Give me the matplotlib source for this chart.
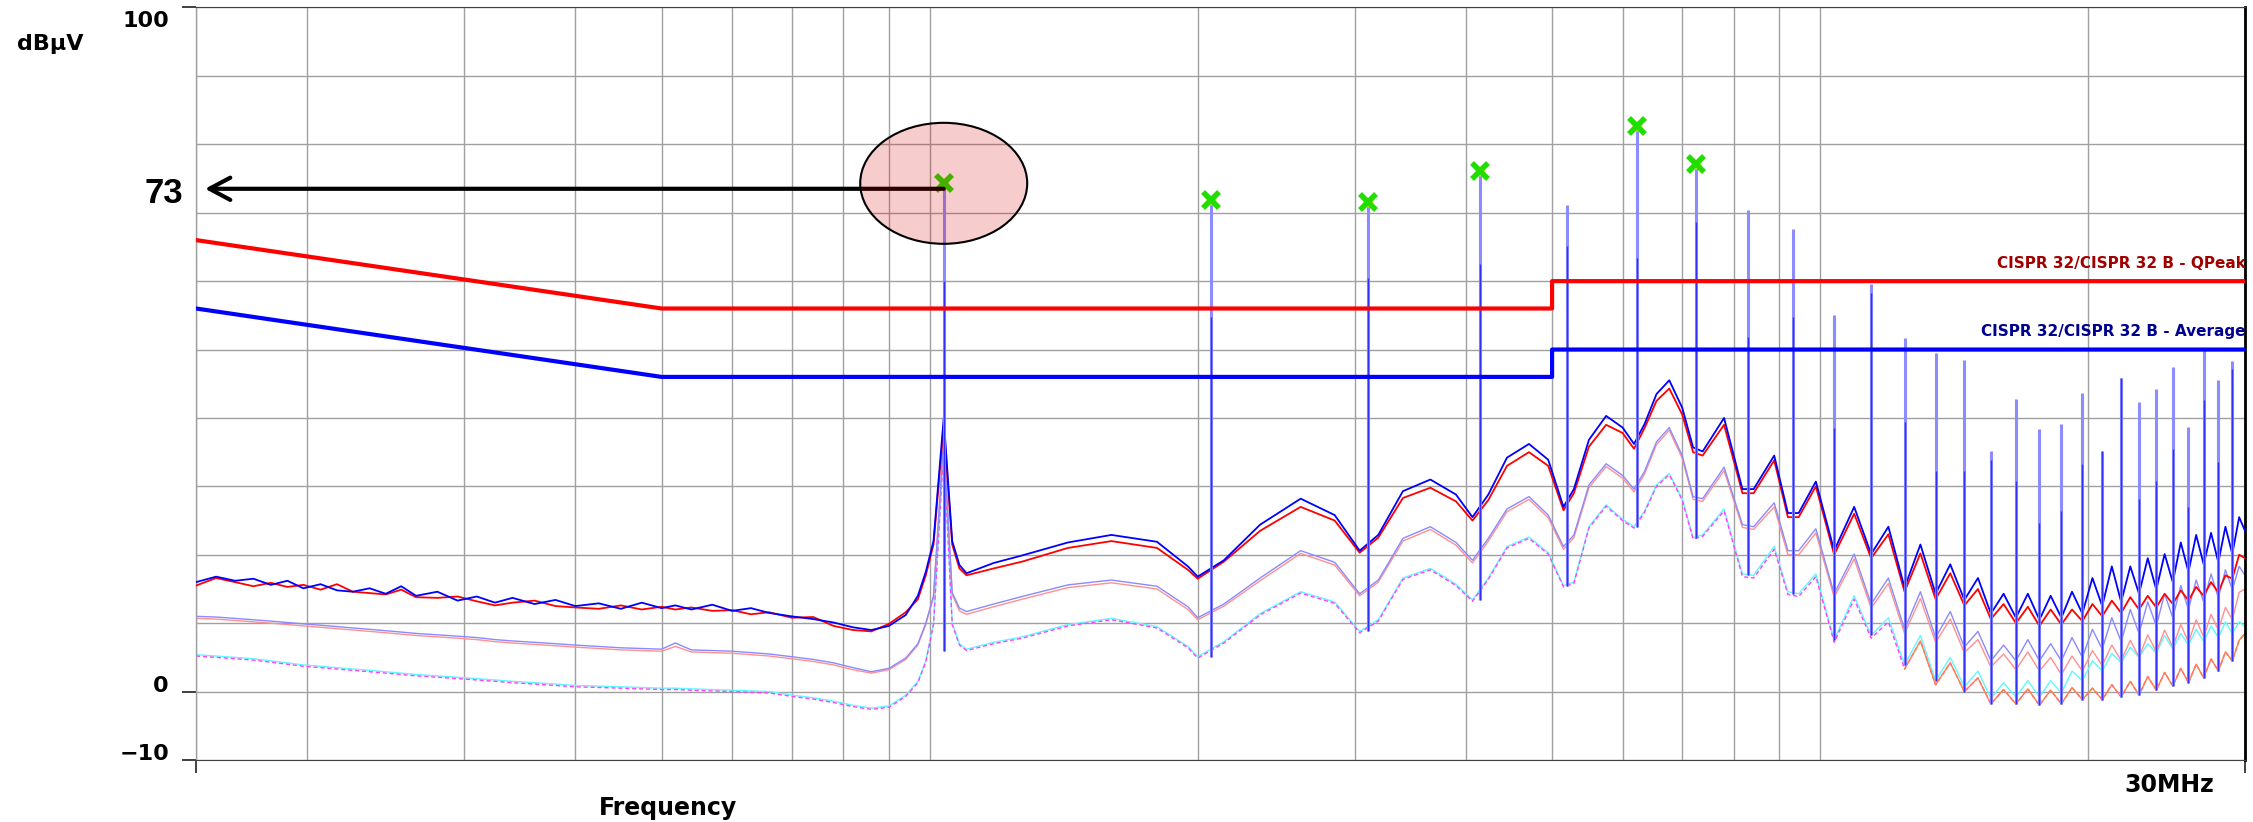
import matplotlib
matplotlib.use('Agg')
import matplotlib.pyplot as plt
import numpy as np
from matplotlib.patches import Ellipse
from matplotlib.ticker import FixedLocator, NullFormatter
from matplotlib.transforms import ScaledTranslation, blended_transform_factory

# scan points (MHz) and levels (dBuV)
freq = [0.150, 0.158, 0.166, 0.174, 0.182, 0.190, 0.198, 0.207, 0.216, 0.225,
        0.235, 0.245, 0.255, 0.265, 0.280, 0.295, 0.310, 0.325, 0.340, 0.360,
        0.380, 0.400, 0.425, 0.450, 0.475, 0.500, 0.518, 0.540, 0.570, 0.600,
        0.630, 0.660, 0.700, 0.740, 0.780, 0.820, 0.860, 0.900, 0.940, 0.970,
        0.990, 1.010, 1.037,
        1.060, 1.080, 1.100, 1.180, 1.270, 1.430, 1.600, 1.800, 1.950, 2.000,
        2.140, 2.350, 2.610, 2.850, 3.040, 3.190, 3.400, 3.650, 3.900, 4.070,
        4.240, 4.450, 4.710, 4.950, 5.150, 5.290, 5.500, 5.750, 6.000, 6.180,
        6.350, 6.550, 6.770, 7.000, 7.200, 7.380, 7.800,
        8.18, 8.42, 8.88, 9.20, 9.46, 9.89,
        10.37, 10.92, 11.41, 11.93, 12.44, 12.96, 13.48, 14.00, 14.52, 15.04,
        15.55, 16.07, 16.59, 17.11, 17.63, 18.15, 18.66, 19.18, 19.70, 20.22,
        20.74, 21.26, 21.78, 22.30, 22.81, 23.33, 23.85, 24.37, 24.89, 25.41,
        25.92, 26.44, 26.96, 27.48, 28.00, 28.52, 29.03, 29.55, 30.00]

pk_l = [16.0, 16.8, 16.2, 16.5, 15.6, 16.2, 15.1, 15.7, 14.8, 14.6,
        15.1, 14.3, 15.4, 14.0, 14.6, 13.3, 13.9, 13.0, 13.7, 12.8,
        13.4, 12.5, 12.9, 12.1, 13.0, 12.2, 12.6, 12.0, 12.7, 11.8,
        12.2, 11.5, 11.0, 10.6, 10.1, 9.4, 9.0, 9.6, 11.2, 14.0,
        17.5, 22.0, 40.0,
        22.0, 18.5, 17.3, 18.8, 19.9, 21.8, 22.9, 21.9, 18.3, 16.8,
        19.2, 24.4, 28.2, 25.8, 20.6, 22.9, 29.3, 31.0, 28.8, 25.5,
        28.8, 34.2, 36.2, 33.9, 27.0, 29.6, 36.8, 40.3, 38.6, 36.2,
        39.1, 43.5, 45.5, 41.5, 35.7, 35.1, 40.0,
        29.6, 29.6, 34.5, 26.1, 26.1, 30.7,
        20.6, 27.0, 20.1, 24.1, 15.2, 21.5, 14.3, 18.6, 13.4, 16.6,
        11.4, 14.3, 10.8, 14.3, 10.5, 14.0, 10.8, 14.6, 11.4, 16.6,
        12.5, 18.3, 13.1, 18.3, 14.3, 19.5, 14.9, 20.1, 16.0, 21.8,
        17.5, 22.9, 18.6, 23.2, 18.9, 24.1, 20.1, 25.5, 23.5]

pk_n = [15.5, 16.6, 16.0, 15.4, 15.9, 15.3, 15.6, 14.9, 15.7, 14.6,
        14.4, 14.2, 14.9, 13.8, 13.7, 13.9, 13.2, 12.6, 13.0, 13.3,
        12.5, 12.3, 12.1, 12.6, 12.0, 12.4, 12.0, 12.3, 11.8, 11.9,
        11.3, 11.6, 10.8, 10.9, 9.6, 9.0, 8.8, 9.9, 11.6, 13.5,
        17.0, 21.5, 39.0,
        21.5, 18.0, 17.0, 18.0, 19.0, 21.0, 22.0, 21.0, 17.8, 16.5,
        19.0, 23.5, 27.0, 25.0, 20.3, 22.5, 28.3, 29.8, 27.8, 25.0,
        28.0, 33.0, 35.0, 33.0, 26.5, 29.0, 35.8, 39.0, 37.8, 35.5,
        38.5, 42.5, 44.3, 40.5, 35.0, 34.5, 39.0,
        29.0, 29.0, 33.8, 25.5, 25.5, 30.0,
        20.0, 26.0, 19.5, 23.0, 14.6, 20.2, 13.5, 17.3, 12.6, 15.0,
        10.6, 12.8, 10.0, 12.4, 9.6, 12.0, 9.8, 12.0, 10.3, 12.8,
        11.0, 13.3, 11.5, 13.8, 12.0, 14.0, 12.3, 14.3, 12.8, 14.8,
        13.3, 15.3, 14.0, 16.0, 14.5, 17.0, 16.5, 20.0, 19.5]

qp_l = [11.0, 10.9, 10.7, 10.5, 10.3, 10.1, 9.9, 9.7, 9.5, 9.3,
        9.1, 8.9, 8.7, 8.5, 8.3, 8.1, 7.9, 7.6, 7.4, 7.2,
        7.0, 6.8, 6.6, 6.4, 6.3, 6.2, 7.1, 6.1, 6.0, 5.9,
        5.7, 5.5, 5.1, 4.7, 4.2, 3.5, 2.9, 3.4, 4.9, 7.0,
        10.0, 14.0, 37.0,
        14.5, 12.2, 11.7, 12.8, 13.9, 15.6, 16.3, 15.4, 12.4, 10.8,
        12.8, 16.6, 20.6, 18.9, 14.3, 16.3, 22.4, 24.1, 21.8, 19.2,
        22.4, 26.7, 28.5, 25.8, 21.2, 22.9, 30.2, 33.3, 31.6, 29.6,
        32.2, 36.5, 38.6, 34.5, 28.5, 28.2, 32.8,
        24.4, 24.1, 27.6, 20.6, 20.6, 23.8,
        14.3, 20.1, 12.8, 16.6, 9.1, 14.6, 7.9, 11.7, 6.5, 8.8,
        4.5, 6.8, 4.5, 7.6, 4.5, 7.0, 4.5, 7.9, 5.0, 9.1,
        6.2, 10.8, 7.3, 12.0, 8.5, 13.1, 9.6, 14.3, 10.8, 15.5,
        12.0, 16.3, 13.1, 17.2, 13.7, 17.8, 14.9, 18.3, 17.0]

qp_n = [10.7, 10.6, 10.4, 10.2, 10.0, 9.8, 9.6, 9.4, 9.2, 9.0,
        8.8, 8.6, 8.4, 8.2, 8.0, 7.8, 7.6, 7.3, 7.1, 6.9,
        6.7, 6.5, 6.3, 6.1, 6.0, 5.9, 6.6, 5.8, 5.7, 5.6,
        5.4, 5.2, 4.8, 4.4, 3.9, 3.2, 2.7, 3.2, 4.7, 6.8,
        9.8, 13.8, 36.5,
        14.2, 11.8, 11.3, 12.4, 13.5, 15.2, 15.9, 15.0, 12.0, 10.5,
        12.5, 16.2, 20.2, 18.5, 14.0, 16.0, 22.0, 23.7, 21.4, 18.8,
        22.0, 26.3, 28.1, 25.4, 20.8, 22.5, 29.8, 32.9, 31.2, 29.2,
        31.8, 36.1, 38.2, 34.1, 28.1, 27.8, 32.3,
        24.0, 23.7, 27.0, 20.0, 20.0, 23.2,
        13.8, 19.4, 12.2, 15.8, 8.5, 13.6, 7.2, 10.6, 5.7, 7.6,
        3.6, 5.5, 3.2, 5.8, 3.0, 5.0, 2.5, 5.2, 3.0, 6.0,
        3.8, 6.8, 4.5, 7.5, 5.0, 8.3, 5.8, 9.0, 6.5, 9.8,
        7.2, 10.5, 8.0, 11.3, 9.0, 12.3, 10.5, 14.5, 15.0]

av_l = [5.4, 5.2, 5.0, 4.8, 4.5, 4.2, 3.9, 3.7, 3.5, 3.3,
        3.1, 2.9, 2.7, 2.5, 2.3, 2.1, 1.9, 1.7, 1.5, 1.3,
        1.1, 0.9, 0.8, 0.7, 0.6, 0.5, 0.5, 0.4, 0.3, 0.2,
        0.1, 0.0, -0.5, -0.9, -1.4, -2.0, -2.4, -2.1, -0.5, 1.5,
        4.5, 10.0, 36.0,
        10.0, 7.0, 6.2, 7.2, 8.0, 9.8, 10.7, 9.5, 6.6, 5.1,
        7.3, 11.4, 14.6, 13.1, 8.8, 10.5, 16.6, 18.0, 15.7, 13.4,
        16.6, 21.2, 22.6, 20.3, 15.5, 16.0, 24.1, 27.3, 25.2, 24.1,
        26.4, 30.2, 31.9, 28.2, 22.5, 22.9, 26.7,
        17.2, 17.0, 21.2, 14.6, 14.3, 17.2,
        7.6, 14.0, 8.2, 10.8, 3.9, 8.2, 1.6, 5.0, 0.7, 3.0,
        -1.0, 1.3, -0.8, 1.6, -0.8, 1.6, -0.2, 3.0, 1.6, 4.5,
        3.0, 5.6, 4.2, 6.5, 5.0, 7.0, 5.6, 8.2, 6.2, 8.5,
        6.8, 9.1, 7.3, 9.6, 7.9, 10.2, 8.5, 10.2, 9.5]

av_n = [5.2, 5.0, 4.8, 4.6, 4.3, 4.0, 3.7, 3.5, 3.3, 3.1,
        2.9, 2.7, 2.5, 2.3, 2.1, 1.9, 1.7, 1.5, 1.3, 1.1,
        0.9, 0.7, 0.6, 0.5, 0.4, 0.3, 0.3, 0.2, 0.1, 0.0,
        -0.1, -0.2, -0.7, -1.1, -1.6, -2.2, -2.6, -2.3, -0.7, 1.3,
        4.3, 9.8, 35.5,
        9.8, 6.8, 6.0, 7.0, 7.8, 9.6, 10.5, 9.3, 6.4, 4.9,
        7.1, 11.2, 14.4, 12.9, 8.6, 10.3, 16.4, 17.8, 15.5, 13.2,
        16.4, 21.0, 22.4, 20.1, 15.3, 15.8, 23.9, 27.1, 25.0, 23.9,
        26.2, 30.0, 31.7, 28.0, 22.3, 22.7, 26.4,
        16.8, 16.6, 20.8, 14.2, 13.9, 16.8,
        7.2, 13.5, 7.8, 10.2, 3.3, 7.4, 1.0, 4.2, 0.0, 2.0,
        -1.8, 0.3, -1.8, 0.4, -2.0, 0.2, -1.8, 0.6, -1.2, 0.5,
        -1.2, 1.0, -0.8, 1.5, -0.5, 2.2, 0.2, 2.8, 0.8, 3.4,
        1.3, 4.0, 2.0, 4.8, 3.0, 5.8, 4.5, 7.5, 8.5]

# harmonic spikes of the ~1.04 MHz switching frequency
spike_f = [1.037, 2.07, 3.11, 4.15, 5.19, 6.22, 7.26, 8.30, 9.33, 10.37,
           11.41, 12.44, 13.48, 14.52, 15.55, 16.59, 17.63, 18.66, 19.70, 20.74,
           21.78, 22.81, 23.85, 24.89, 25.92, 26.96, 28.00, 29.03]
spike_top = [74.0, 71.6, 71.4, 76.0, 71.2, 82.6, 77.0, 70.4, 67.6, 55.0,
             59.6, 51.7, 49.5, 48.4, 35.2, 42.8, 38.4, 39.1, 43.7, 35.2,
             45.8, 42.3, 44.3, 47.5, 38.7, 50.0, 45.5, 48.3]
# top of the darker (L peak) part of each spike
spike_mid = [60.0, 54.7, 60.5, 62.5, 65.1, 63.4, 68.6, 51.8, 54.7, 38.6,
             58.2, 39.4, 32.2, 32.2, 33.9, 30.8, 24.7, 26.4, 33.3, 35.1,
             45.8, 28.2, 30.8, 35.4, 27.0, 42.6, 33.6, 47.2]
spike_base = [6.0, 5.1, 8.8, 13.4, 15.5, 24.1, 22.5, 17.0, 14.3, 7.6,
              8.2, 3.9, 1.6, 0.0, -1.8, -1.8, -2.0, -1.8, -1.2, -1.2,
              -0.8, -0.5, 0.2, 0.8, 1.3, 2.0, 3.0, 4.5]

# peak markers
mk_f = [1.037, 2.07, 3.11, 4.15, 6.22, 7.26]
mk_db = [74.3, 71.8, 71.6, 76.1, 82.7, 77.1]
arrow_db = 73.5
arrow_label = '73'

# CISPR 32 class B limits
lim_f = [0.15, 0.5, 5.0, 5.0, 30.0]
lim_qp = [66, 56, 56, 60, 60]
lim_av = [56, 46, 46, 50, 50]

grid_f = [0.2, 0.3, 0.4, 0.5, 0.6, 0.7, 0.8, 0.9,
          1, 2, 3, 4, 5, 6, 7, 8, 9, 10, 20]
y_ticks = [-10, 0, 100]
y_labels = ['\u221210', '0', '100']

W, H = 2253, 822
fig = plt.figure(figsize=(W / 100, H / 100), dpi=100)
ax = fig.add_axes([196 / W, 62 / H, 2049 / W, 752.5 / H])
ax.set_xscale('log')
ax.set_xlim(0.15, 30)
ax.set_ylim(-10, 100)

ax.xaxis.set_major_locator(FixedLocator([0.15, 30]))
ax.xaxis.set_minor_locator(FixedLocator(grid_f))
ax.xaxis.set_major_formatter(NullFormatter())
ax.xaxis.set_minor_formatter(NullFormatter())
ax.yaxis.set_major_locator(FixedLocator(y_ticks))
ax.yaxis.set_minor_locator(FixedLocator(list(range(10, 100, 10))))
ax.yaxis.set_major_formatter(NullFormatter())
ax.tick_params(axis='x', which='major', length=9, width=1.4, color='#404040')
ax.tick_params(axis='y', which='major', length=10, width=1.4, color='#404040')
ax.tick_params(which='minor', length=0)
ax.grid(True, which='both', color='#a0a0a0', lw=1.0)
ax.set_axisbelow(True)

ax.spines['left'].set_color('#a0a0a0')
ax.spines['left'].set_linewidth(1.0)
ax.spines['top'].set_color('#404040')
ax.spines['bottom'].set_color('#404040')
ax.spines['right'].set_color('black')
ax.spines['right'].set_linewidth(2.0)

f = np.array(freq)
hi = f >= 12
ax.plot(freq, av_l, color='#60f8ff', lw=1.0, zorder=2)
ax.plot(freq, av_n, color='#ff40ff', lw=1.0, ls=(0, (3, 2)), zorder=2)
ax.plot(f[hi], np.array(av_n)[hi], color='#ff8040', lw=1.0, zorder=2)
ax.plot(freq, qp_n, color='#ff9090', lw=1.0, zorder=2)
ax.plot(freq, qp_l, color='#8a8aff', lw=1.0, zorder=2)
ax.plot(freq, pk_n, color='#ff0000', lw=1.3, zorder=3)
ax.plot(freq, pk_l, color='#0000ff', lw=1.3, zorder=3)
ax.vlines(spike_f, spike_base, spike_top, color='#8c8cff', lw=2.2, zorder=4)
ax.vlines(spike_f, spike_base, spike_mid, color='#3030ff', lw=1.0, zorder=4)

ax.plot(lim_f, lim_qp, color='#ff0000', lw=3, zorder=5)
ax.plot(lim_f, lim_av, color='#0000ff', lw=3, zorder=5)
blend = blended_transform_factory(ax.transAxes, ax.transData)
ax.text(1.003, 61.9, 'CISPR 32/CISPR 32 B - QPeak/', color='#a00000',
        fontsize=11, fontweight='bold', ha='right', va='baseline',
        transform=blend, clip_on=True, zorder=6)
ax.text(1.003, 52.0, 'CISPR 32/CISPR 32 B - Average/', color='#000090',
        fontsize=11, fontweight='bold', ha='right', va='baseline',
        transform=blend, clip_on=True, zorder=6)

ax.plot(mk_f, mk_db, 'o', color='#ffee00', ms=6, zorder=7)
ax.plot(mk_f, mk_db, 'x', color='#22dd00', ms=11, mew=4, zorder=8)

ax.annotate('', xy=(0.0044, arrow_db), xycoords=blend,
            xytext=(spike_f[0], arrow_db), textcoords='data',
            arrowprops=dict(arrowstyle='->,head_length=0.75,head_width=0.4',
                            lw=3, color='black', mutation_scale=20,
                            shrinkA=0, shrinkB=0), zorder=9)
ax.annotate(arrow_label, xy=(0, arrow_db), xycoords=blend,
            xytext=(-13, -14), textcoords='offset pixels',
            ha='right', va='baseline', fontsize=25, fontweight='bold',
            family='Liberation Sans', annotation_clip=False)

# highlight ring around the fundamental
ring = ScaledTranslation(mk_f[0], mk_db[0], ax.transData)
ax.add_patch(Ellipse((0, 0), 1.67, 1.21, transform=fig.dpi_scale_trans + ring,
                     facecolor=(0.86, 0, 0, 0.2), edgecolor='black', lw=1.5,
                     zorder=10, clip_on=False))

# axis texts
for v, lab in zip(y_ticks, y_labels):
    dy = -19.5 if v == 100 else 0
    ax.annotate(lab, xy=(0, v), xycoords=blend, xytext=(-27, dy),
                textcoords='offset pixels', ha='right', va='baseline',
                fontsize=16, fontweight='bold', annotation_clip=False)
fig.text(17 / W, 1 - 50 / H, 'dB\u00b5V', ha='left', va='baseline',
         fontsize=16, fontweight='bold')
fig.text(668 / W, 1 - 815 / H, 'Frequency', ha='center', va='baseline',
         fontsize=17, fontweight='bold')
fig.text(2169 / W, 1 - 792 / H, '30MHz', ha='center', va='baseline',
         fontsize=17, fontweight='bold')

fig.savefig('out.png', dpi=100)
